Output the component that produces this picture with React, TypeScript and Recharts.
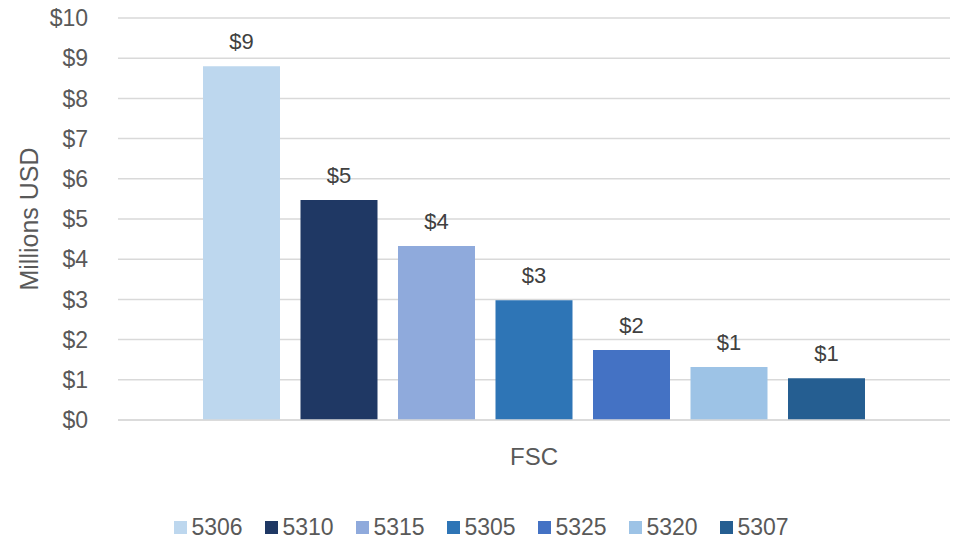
import React from 'react';
import { BarChart, Bar, XAxis, YAxis, CartesianGrid, Legend, LabelList } from 'recharts';

const category = 'FSC';
const seriesNames = ['5306', '5310', '5315', '5305', '5325', '5320', '5307'];
const seriesValues = [8.8, 5.47, 4.33, 2.98, 1.74, 1.32, 1.04];
const seriesColors = ['#BDD7EE', '#1F3864', '#8FAADC', '#2E75B6', '#4472C4', '#9DC3E6', '#255E91'];
const yTicks = [0, 1, 2, 3, 4, 5, 6, 7, 8, 9, 10];

const row: Record<string, any> = { name: category };
seriesNames.forEach((n, i) => { row[n] = seriesValues[i]; });
const data = [row];

const FONT = '"Liberation Sans", Arial, sans-serif';

function LegendContent() {
  return (
    <div style={{ display: 'flex', justifyContent: 'center', alignItems: 'center', fontFamily: FONT, paddingLeft: 34, paddingTop: 9 }}>
      {seriesNames.map((n, i) => (
        <div key={n} style={{ display: 'flex', alignItems: 'center', width: 91 }}>
          <span style={{ display: 'inline-block', width: 13, height: 13, background: seriesColors[i], marginRight: 5 }} />
          <span style={{ color: '#595959', fontSize: 23, lineHeight: '26px' }}>{n}</span>
        </div>
      ))}
    </div>
  );
}

export default function App() {
  return (
    <div style={{ position: 'absolute', left: 0, top: 0, fontFamily: FONT }}>
      <BarChart
        width={955}
        height={539}
        data={data}
        margin={{ top: 18, right: 5, left: 0, bottom: 0 }}
        barSize={77}
        barGap={20.5}
      >
        <CartesianGrid vertical={false} stroke="#d9d9d9" strokeWidth={1.5} />
        <XAxis
          dataKey="name"
          tickLine={false}
          axisLine={{ stroke: '#d9d9d9', strokeWidth: 1.5 }}
          tick={{ fill: '#595959', fontSize: 24, fontFamily: FONT }}
          tickMargin={22}
          height={85}
        />
        <YAxis
          domain={[0, 10]}
          ticks={yTicks}
          interval={0}
          tickLine={false}
          axisLine={false}
          width={118}
          tickMargin={24}
          tickFormatter={(v: number) => `$${v}`}
          tick={{ fill: '#595959', fontSize: 23, fontFamily: FONT }}
          label={{
            value: 'Millions USD',
            angle: -90,
            position: 'insideLeft',
            offset: 29,
            style: { fill: '#595959', fontSize: 25, fontFamily: FONT, textAnchor: 'middle' },
          }}
        />
        <Legend verticalAlign="bottom" align="center" height={34} content={() => <LegendContent />} />
        {seriesNames.map((n, i) => (
          <Bar key={n} dataKey={n} name={n} fill={seriesColors[i]} isAnimationActive={false}>
            <LabelList
              dataKey={n}
              position="top"
              offset={17}
              formatter={(v: any) => `$${Math.round(Number(v))}`}
              style={{ fill: '#404040', fontSize: 22, fontFamily: FONT }}
            />
          </Bar>
        ))}
      </BarChart>
    </div>
  );
}
